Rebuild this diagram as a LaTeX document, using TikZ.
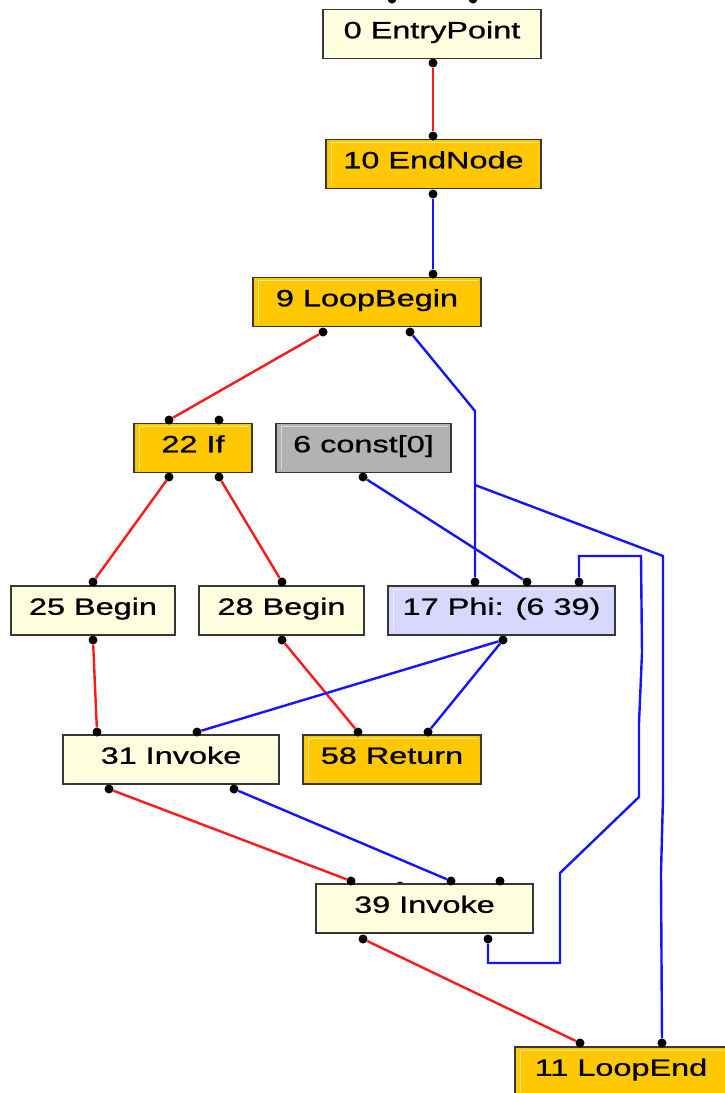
\documentclass[tikz,border=0pt]{standalone}
\usepackage{fontspec}
\setmainfont{Liberation Sans}[BoldFont={Liberation Sans}, BoldFeatures={FakeBold=0.8}]

\definecolor{lyellow}{RGB}{255,255,224}
\definecolor{orangebox}{RGB}{255,200,0}
\definecolor{graybox}{RGB}{178,178,178}
\definecolor{phibox}{RGB}{216,216,255}
\definecolor{boxedge}{RGB}{55,55,55}
\definecolor{ctrlred}{RGB}{255,25,25}
\definecolor{datablue}{RGB}{20,20,255}

\newcommand{\wide}[1]{\scalebox{1.38}[1]{#1}}

\tikzset{
  block/.style={draw=boxedge, line width=1.5pt, inner sep=0pt,
                minimum height=49pt, text height=16.5pt, text depth=8pt,
                font=\fontsize{23.5}{27}\selectfont\bfseries,
                path picture={\draw[white, line width=.9pt, opacity=.55]
                  ([shift={(5pt,4pt)}]path picture bounding box.south west) |-
                  ([shift={(-3pt,-3pt)}]path picture bounding box.north east);}},
  plainbox/.style={block, fill=lyellow},
  fixedbox/.style={block, fill=orangebox},
  constbox/.style={block, fill=graybox},
  phibox/.style={block, fill=phibox},
  pin/.style={circle, fill=black, inner sep=0pt, minimum size=9pt},
  ctrl/.style={draw=ctrlred, line width=2.4pt},
  data/.style={draw=datablue, line width=2.4pt}
}

\begin{document}
\begin{tikzpicture}[x=1pt, y=-1pt]
\useasboundingbox (0,0) rectangle (725,1093);

% half hidden pins
\node[pin] (entryIn1) at (392,-1) {};
\node[pin] (entryIn2) at (473,-1) {};
\node[pin] (inv39In2) at (400,886) {};

% blocks
\node[plainbox, minimum width=218pt] (entry)     at (432,34)    {\wide{0 EntryPoint}};
\node[fixedbox, minimum width=215pt] (endnode)   at (433.5,164) {\wide{10 EndNode}};
\node[fixedbox, minimum width=228pt] (loopbegin) at (367,302)   {\wide{9 LoopBegin}};
\node[fixedbox, minimum width=118pt] (if)        at (193,448)   {\wide{22 If}};
\node[constbox, minimum width=175pt] (const)     at (363.5,448) {\wide{6 const[0]}};
\node[plainbox, minimum width=164pt] (begin25)   at (93,610.5)  {\wide{25 Begin}};
\node[plainbox, minimum width=165pt] (begin28)   at (281.5,610.5) {\wide{28 Begin}};
\node[phibox,   minimum width=227pt] (phi)       at (501.5,610.5) {\wide{17 Phi: (6 39)}};
\node[plainbox, minimum width=216pt] (invoke31)  at (171,759.5) {\wide{31 Invoke}};
\node[fixedbox, minimum width=178pt] (return)    at (392,759.5) {\wide{58 Return}};
\node[plainbox, minimum width=217pt] (invoke39)  at (424.5,908.5) {\wide{39 Invoke}};
\node[fixedbox, minimum width=212pt] (loopend)   at (621,1071.5) {\wide{11 LoopEnd}};

% pins
\begin{scope}[every node/.style={pin}]
    \node (entryOut)   at (433,63)  {};
    \node (endIn)      at (433,136) {};
    \node (endOut)     at (433,194) {};
    \node (lbIn)       at (433,274) {};
    \node (lbOut1)     at (323,332) {};
    \node (lbOut2)     at (410,332) {};
    \node (ifIn1)      at (169,420) {};
    \node (ifIn2)      at (219,420) {};
    \node (ifOut1)     at (169,477) {};
    \node (ifOut2)     at (219,477) {};
    \node (constOut)   at (363,477) {};
    \node (b25In)      at (93,582)  {};
    \node (b25Out)     at (93,640)  {};
    \node (b28In)      at (282,582) {};
    \node (b28Out)     at (282,640) {};
    \node (phiIn1)     at (475,582) {};
    \node (phiIn2)     at (527,582) {};
    \node (phiIn3)     at (579,582) {};
    \node (phiOut)     at (503,640) {};
    \node (inv31In1)   at (97,732)  {};
    \node (inv31In2)   at (197,732) {};
    \node (inv31Out1)  at (109,789) {};
    \node (inv31Out2)  at (234,789) {};
    \node (retIn1)     at (358,732) {};
    \node (retIn2)     at (428,732) {};
    \node (inv39In1)   at (351,881) {};
    \node (inv39In3)   at (451,881) {};
    \node (inv39In4)   at (500,881) {};
    \node (inv39Out1)  at (363,939) {};
    \node (inv39Out2)  at (488,939) {};
    \node (leIn1)      at (580,1043) {};
    \node (leIn2)      at (662,1043) {};
\end{scope}

% control flow
\path[ctrl] (entryOut) -- (endIn);
\path[ctrl] (lbOut1) -- (ifIn1);
\path[ctrl] (ifOut1) -- (b25In);
\path[ctrl] (ifOut2) -- (b28In);
\path[ctrl] (b25Out) -- (inv31In1);
\path[ctrl] (b28Out) -- (retIn1);
\path[ctrl] (inv31Out1) -- (inv39In1);
\path[ctrl] (inv39Out1) -- (leIn1);

% data flow
\path[data] (endOut) -- (lbIn);
\path[data] (lbOut2) -- (475,411) -- (phiIn1);
\path[data] (475,485) -- (663,556) -- (663,797) -- (661,873) -- (leIn2);
\path[data] (constOut) -- (phiIn2);
\path[data] (phiOut) -- (inv31In2);
\path[data] (phiOut) -- (retIn2);
\path[data] (inv31Out2) -- (inv39In3);
\path[data] (inv39Out2) -- (488,963) -- (560,963) -- (560,873) -- (639,797)
    -- (639,723) -- (642,653) -- (641,556) -- (579,556) -- (phiIn3);
\end{tikzpicture}
\end{document}
